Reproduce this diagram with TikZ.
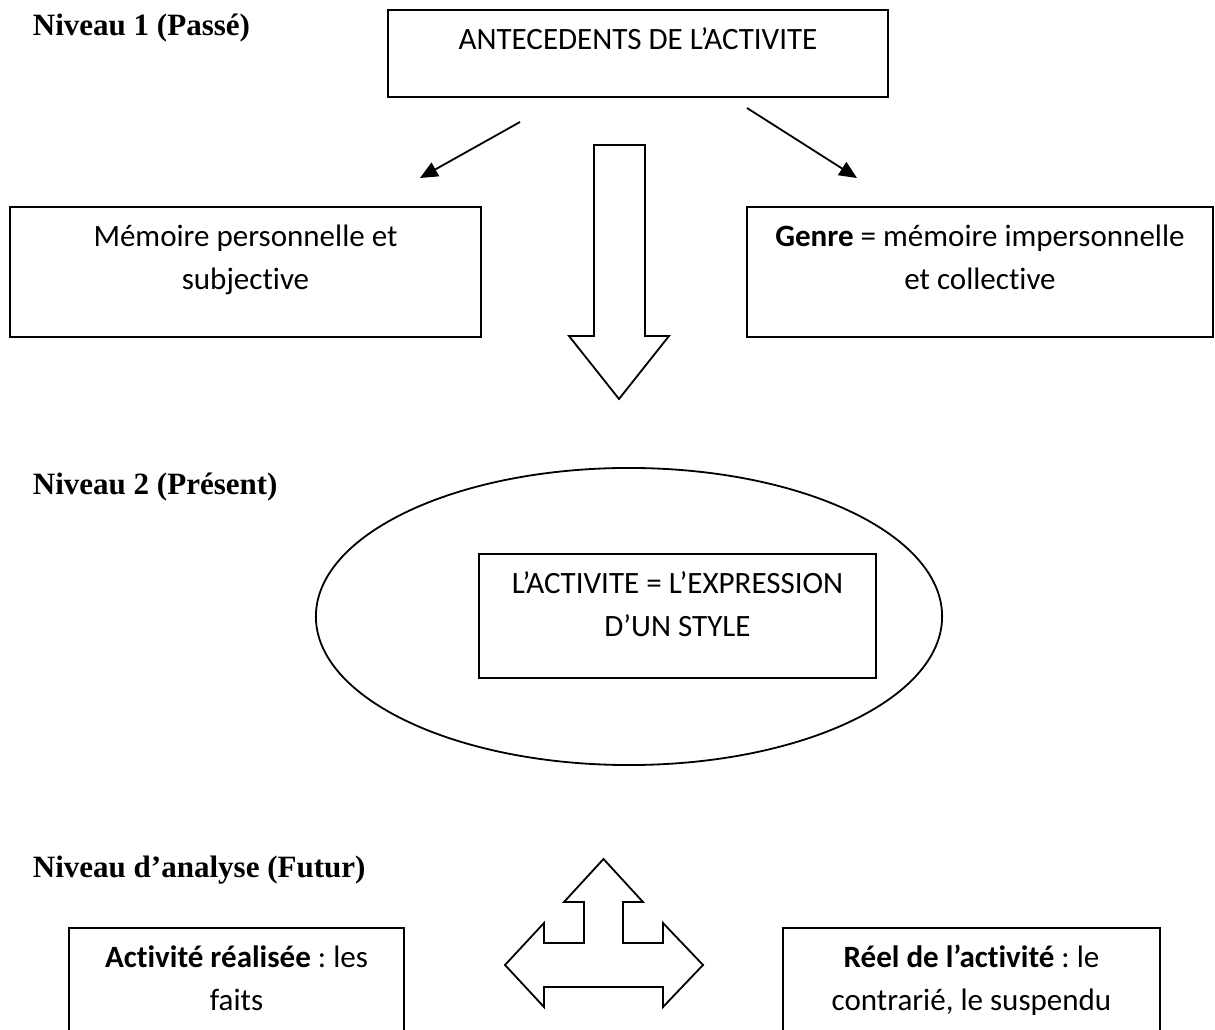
\documentclass[tikz,border=0pt]{standalone}
\usepackage{fontspec}
\setmainfont{Carlito}[Ligatures=NoCommon]
\newfontfamily\niveaufont{Liberation Serif}
\usepackage{tikz}
\usetikzlibrary{arrows.meta,positioning,shapes.geometric}
\frenchspacing

\begin{document}
\begin{tikzpicture}[x=0.0136cm, y=-0.0136cm, line width=0.7pt,
  bx/.style={draw, inner sep=0pt},
  txt/.style={inner sep=0pt, align=center, font=\fontsize{12}{16.5}\selectfont},
  niv/.style={inner sep=0pt, anchor=base west, font=\niveaufont\bfseries\fontsize{12}{14}\selectfont},
  fl/.style={-{Triangle[length=0.24cm, width=0.21cm]}}]
\useasboundingbox (0,0) rectangle (1215,1030);
\clip (0,0) rectangle (1215,1030);
\node[niv] (N1) at (32,36) {Niveau 1 (Passé)};
\node[bx, minimum width=6.8cm, minimum height=1.183cm] (A) at (638,53.5) {};
\node[txt, below=0.13cm of A.north] (At) {\strut ANTECEDENTS DE L’ACTIVITE};
\node[bx, minimum width=6.406cm, minimum height=1.768cm] (M) at (245.5,272) {};
\node[txt, below=0.13cm of M.north] (Mt) {\strut Mémoire personnelle et\\subjective};
\node[bx, minimum width=6.338cm, minimum height=1.768cm] (G) at (980,272) {};
\node[txt, below=0.13cm of G.north] (Gt) {\strut\textbf{Genre} = mémoire impersonnelle\\et collective};
\coordinate (fl1) at (520,122);
\coordinate (fl1e) at (420,178);
\coordinate (fr1) at (747,108);
\coordinate (fr1e) at (857,178);
\draw[fl] (fl1) -- (fl1e);
\draw[fl] (fr1) -- (fr1e);
\draw (594,145) -- (645,145) -- (645,336) -- (669,336) -- (619,399) -- (569,336) -- (594,336) -- cycle;
\node[niv] (N2) at (32,495) {Niveau 2 (Présent)};
\node[draw, ellipse, inner sep=0pt, minimum width=8.514cm, minimum height=4.039cm] (E) at (629,616.5) {};
\node[bx, minimum width=5.399cm, minimum height=1.686cm] (S) at (677.5,616) {};
\node[txt, below=0.13cm of S.north] (St) {\strut L’ACTIVITE = L’EXPRESSION\\D’UN STYLE};
\node[niv] (N3) at (32,878) {Niveau d’analyse (Futur)};
\draw (603.5,859) -- (643,902) -- (623,902) -- (623,943) -- (663,943) -- (663,923) -- (703,965)
  -- (663,1007) -- (663,987) -- (544,987) -- (544,1007) -- (505,965) -- (544,923) -- (544,943)
  -- (584,943) -- (584,902) -- (564,902) -- cycle;
\node[bx, minimum width=4.556cm, minimum height=1.795cm] (R) at (236.5,994) {};
\node[txt, below=0.13cm of R.north] (Rt) {\strut\textbf{Activité réalisée} : les\\faits};
\node[bx, minimum width=5.127cm, minimum height=1.795cm] (L) at (971.5,994) {};
\node[txt, below=0.13cm of L.north] (Lt) {\strut\textbf{Réel de l’activité} : le\\contrarié, le suspendu};
\end{tikzpicture}
\end{document}
